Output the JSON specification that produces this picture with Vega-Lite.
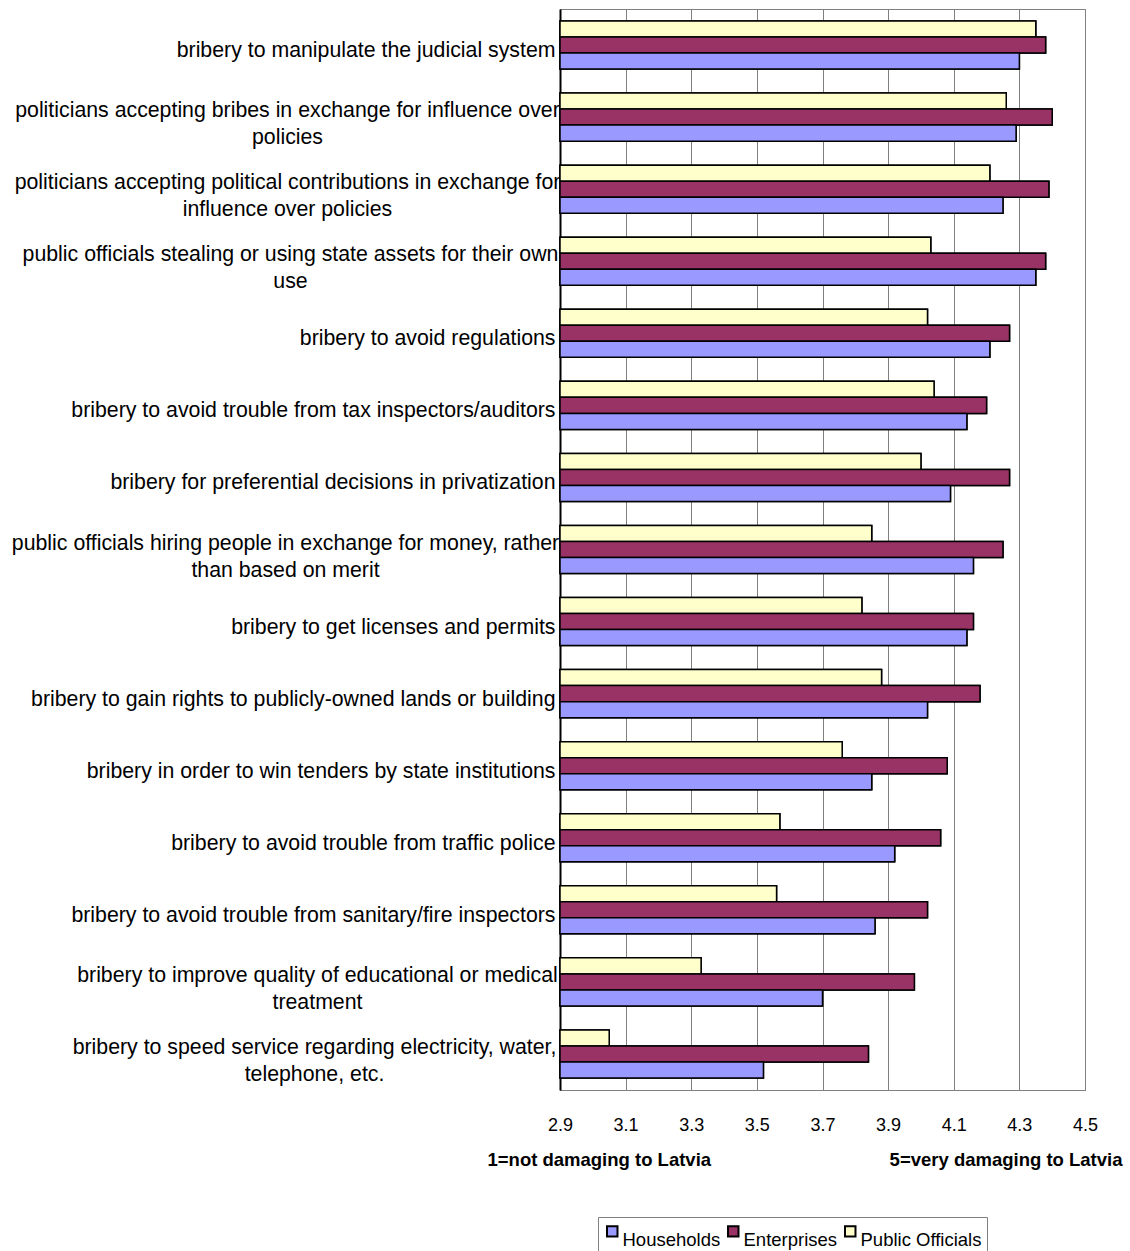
{
  "$schema": "https://vega.github.io/schema/vega-lite/v6.json",
  "width": 525,
  "height": 1081,
  "autosize": {"type": "none"},
  "padding": {"left": 560, "top": 9, "right": 45, "bottom": 161},
  "background": "white",
  "config": {
    "view": {"stroke": "#808080", "strokeWidth": 1},
    "font": "Liberation Sans"
  },
  "data": {
    "values": [
      {"category": "bribery to manipulate the judicial system", "group": "Public Officials", "score": 4.35},
      {"category": "bribery to manipulate the judicial system", "group": "Enterprises", "score": 4.38},
      {"category": "bribery to manipulate the judicial system", "group": "Households", "score": 4.30},
      {"category": "politicians accepting bribes in exchange for influence over\npolicies", "group": "Public Officials", "score": 4.26},
      {"category": "politicians accepting bribes in exchange for influence over\npolicies", "group": "Enterprises", "score": 4.40},
      {"category": "politicians accepting bribes in exchange for influence over\npolicies", "group": "Households", "score": 4.29},
      {"category": "politicians accepting political contributions in exchange for\ninfluence over policies", "group": "Public Officials", "score": 4.21},
      {"category": "politicians accepting political contributions in exchange for\ninfluence over policies", "group": "Enterprises", "score": 4.39},
      {"category": "politicians accepting political contributions in exchange for\ninfluence over policies", "group": "Households", "score": 4.25},
      {"category": "public officials stealing or using state assets for their own\nuse", "group": "Public Officials", "score": 4.03},
      {"category": "public officials stealing or using state assets for their own\nuse", "group": "Enterprises", "score": 4.38},
      {"category": "public officials stealing or using state assets for their own\nuse", "group": "Households", "score": 4.35},
      {"category": "bribery to avoid regulations", "group": "Public Officials", "score": 4.02},
      {"category": "bribery to avoid regulations", "group": "Enterprises", "score": 4.27},
      {"category": "bribery to avoid regulations", "group": "Households", "score": 4.21},
      {"category": "bribery to avoid trouble from tax inspectors/auditors", "group": "Public Officials", "score": 4.04},
      {"category": "bribery to avoid trouble from tax inspectors/auditors", "group": "Enterprises", "score": 4.20},
      {"category": "bribery to avoid trouble from tax inspectors/auditors", "group": "Households", "score": 4.14},
      {"category": "bribery for preferential decisions in privatization", "group": "Public Officials", "score": 4.00},
      {"category": "bribery for preferential decisions in privatization", "group": "Enterprises", "score": 4.27},
      {"category": "bribery for preferential decisions in privatization", "group": "Households", "score": 4.09},
      {"category": "public officials hiring people in exchange for money, rather\nthan based on merit", "group": "Public Officials", "score": 3.85},
      {"category": "public officials hiring people in exchange for money, rather\nthan based on merit", "group": "Enterprises", "score": 4.25},
      {"category": "public officials hiring people in exchange for money, rather\nthan based on merit", "group": "Households", "score": 4.16},
      {"category": "bribery to get licenses and permits", "group": "Public Officials", "score": 3.82},
      {"category": "bribery to get licenses and permits", "group": "Enterprises", "score": 4.16},
      {"category": "bribery to get licenses and permits", "group": "Households", "score": 4.14},
      {"category": "bribery to gain rights to publicly-owned lands or building", "group": "Public Officials", "score": 3.88},
      {"category": "bribery to gain rights to publicly-owned lands or building", "group": "Enterprises", "score": 4.18},
      {"category": "bribery to gain rights to publicly-owned lands or building", "group": "Households", "score": 4.02},
      {"category": "bribery in order to win tenders by state institutions", "group": "Public Officials", "score": 3.76},
      {"category": "bribery in order to win tenders by state institutions", "group": "Enterprises", "score": 4.08},
      {"category": "bribery in order to win tenders by state institutions", "group": "Households", "score": 3.85},
      {"category": "bribery to avoid trouble from traffic police", "group": "Public Officials", "score": 3.57},
      {"category": "bribery to avoid trouble from traffic police", "group": "Enterprises", "score": 4.06},
      {"category": "bribery to avoid trouble from traffic police", "group": "Households", "score": 3.92},
      {"category": "bribery to avoid trouble from sanitary/fire inspectors", "group": "Public Officials", "score": 3.56},
      {"category": "bribery to avoid trouble from sanitary/fire inspectors", "group": "Enterprises", "score": 4.02},
      {"category": "bribery to avoid trouble from sanitary/fire inspectors", "group": "Households", "score": 3.86},
      {"category": "bribery to improve quality of educational or medical\ntreatment", "group": "Public Officials", "score": 3.33},
      {"category": "bribery to improve quality of educational or medical\ntreatment", "group": "Enterprises", "score": 3.98},
      {"category": "bribery to improve quality of educational or medical\ntreatment", "group": "Households", "score": 3.70},
      {"category": "bribery to speed service regarding electricity, water,\ntelephone, etc.", "group": "Public Officials", "score": 3.05},
      {"category": "bribery to speed service regarding electricity, water,\ntelephone, etc.", "group": "Enterprises", "score": 3.84},
      {"category": "bribery to speed service regarding electricity, water,\ntelephone, etc.", "group": "Households", "score": 3.52}
    ]
  },
  "encoding": {
    "y": {
      "field": "category",
      "type": "nominal",
      "sort": null,
      "scale": {"paddingInner": 0.333, "paddingOuter": 0.1667},
      "axis": {
        "title": null,
        "domain": true,
        "domainColor": "black",
        "domainWidth": 2,
        "ticks": false,
        "grid": false,
        "labelFont": "Liberation Sans",
        "labelFontSize": 21.3,
        "labelColor": "black",
        "labelLimit": 700,
        "labelLineHeight": 27,
        "labelBaseline": "middle",
        "labelExpr": "split(datum.label, '\\n')",
        "labelOffset": {"condition": {"test": "indexof(datum.value, '\\n') >= 0", "value": -6}, "value": 6},
        "labelAlign": {"condition": {"test": "indexof(datum.value, '\\n') >= 0", "value": "center"}, "value": "right"},
        "labelPadding": {
          "condition": [
            {"test": "indexof(datum.value, 'educational') >= 0", "value": 243},
            {"test": "indexof(datum.value, 'electricity') >= 0", "value": 246},
            {"test": "indexof(datum.value, 'stealing') >= 0", "value": 270},
            {"test": "indexof(datum.value, 'hiring') >= 0", "value": 275},
            {"test": "indexof(datum.value, '\\n') >= 0", "value": 273}
          ],
          "value": 5
        }
      }
    },
    "yOffset": {
      "field": "group",
      "type": "nominal",
      "sort": ["Public Officials", "Enterprises", "Households"],
      "scale": {"paddingInner": 0, "paddingOuter": 0}
    },
    "x2": {"datum": 2.9},
    "color": {
      "field": "group",
      "type": "nominal",
      "scale": {
        "domain": ["Households", "Enterprises", "Public Officials"],
        "range": ["#9999FF", "#993366", "#FFFFCC"]
      },
      "legend": {
        "title": null,
        "orient": "none",
        "legendX": 38,
        "legendY": 1208,
        "direction": "horizontal",
        "strokeColor": "#808080",
        "fillColor": "white",
        "padding": 5,
        "labelFont": "Liberation Sans",
        "labelFontSize": 18.5,
        "labelColor": "black",
        "labelBaseline": "top",
        "labelOffset": 1,
        "columnPadding": 3,
        "symbolType": "square",
        "symbolSize": 110,
        "symbolStrokeColor": "black",
        "symbolStrokeWidth": 2
      }
    }
  },
  "layer": [
    {
      "mark": {"type": "bar", "stroke": "black", "strokeWidth": 1.5},
      "encoding": {
        "x": {
          "field": "score",
          "type": "quantitative",
          "scale": {"domain": [2.9, 4.5], "zero": false, "nice": false},
          "axis": {
            "values": [2.9, 3.1, 3.3, 3.5, 3.7, 3.9, 4.1, 4.3, 4.5],
            "format": ".1f",
            "grid": true,
            "gridColor": "#808080",
            "gridWidth": 1,
            "ticks": false,
            "domain": true,
            "domainColor": "#808080",
            "labelFont": "Liberation Sans",
            "labelFontSize": 18,
            "labelColor": "black",
            "labelPadding": 26,
            "labelFlush": false,
            "labelOverlap": false,
            "title": "1=not damaging to Latvia",
            "titleFont": "Liberation Sans",
            "titleFontSize": 18.5,
            "titleFontWeight": "bold",
            "titleColor": "black",
            "titleAlign": "left",
            "titleAnchor": "start",
            "titleBaseline": "middle",
            "titleX": -73,
            "titleY": 69
          }
        }
      }
    },
    {
      "mark": {"type": "bar", "stroke": "black", "strokeWidth": 1.5},
      "encoding": {
        "x": {
          "field": "score",
          "type": "quantitative",
          "axis": {
            "orient": "bottom",
            "labels": false,
            "ticks": false,
            "domain": false,
            "grid": false,
            "title": "5=very damaging to Latvia",
            "titleFont": "Liberation Sans",
            "titleFontSize": 18.5,
            "titleFontWeight": "bold",
            "titleColor": "black",
            "titleAlign": "right",
            "titleAnchor": "end",
            "titleBaseline": "middle",
            "titleX": 562,
            "titleY": 69
          }
        }
      }
    }
  ],
  "resolve": {"axis": {"x": "independent"}}
}
